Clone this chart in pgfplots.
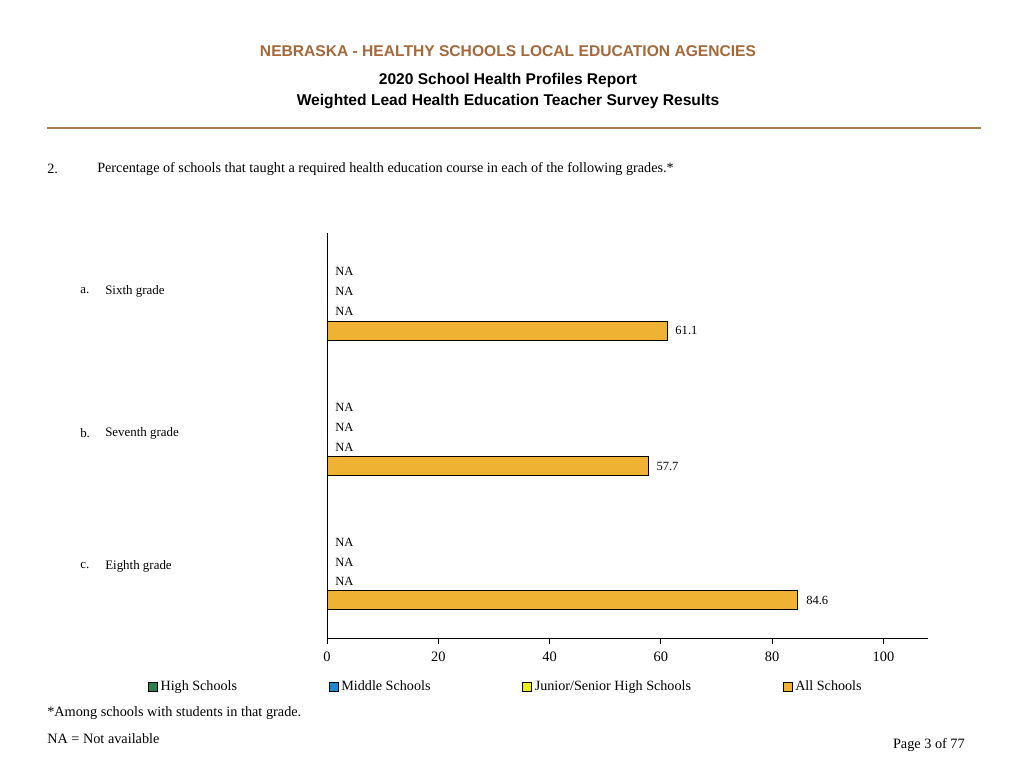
\documentclass[border=0pt]{standalone}
\usepackage{fontspec}
\setmainfont{Liberation Serif}
\newfontfamily\headfont{Liberation Sans}
\usepackage{pgfplots}
\pgfplotsset{compat=1.18}
\definecolor{headbrown}{HTML}{A5683A}
\definecolor{rulebrown}{HTML}{A87A50}
\definecolor{hsgreen}{HTML}{2E7D4F}
\definecolor{msblue}{HTML}{1E88D0}
\definecolor{jsyellow}{HTML}{EEEE10}
\definecolor{allorange}{HTML}{F0B232}
\begin{document}
\begin{tikzpicture}
\useasboundingbox (0,0) rectangle (768pt,576pt);
% header
\node[font=\headfont\bfseries\fontsize{11.7}{13}\selectfont, text=headbrown, inner sep=0] at (381pt,537.75pt) {NEBRASKA - HEALTHY SCHOOLS LOCAL EDUCATION AGENCIES};
\node[font=\headfont\bfseries\fontsize{11.65}{13}\selectfont, inner sep=0] at (381pt,515.5pt) {2020 School Health Profiles Report};
\node[font=\headfont\bfseries\fontsize{11.7}{13}\selectfont, inner sep=0] at (381pt,499.5pt) {Weighted Lead Health Education Teacher Survey Results};
\draw[rulebrown, line width=1.6pt] (35.25pt,480pt) -- (735.75pt,480pt);
% question
\node[font=\fontsize{10.65}{12}\selectfont, anchor=west, inner sep=0] at (35.25pt,449.25pt) {2.};
\node[font=\fontsize{10.65}{12}\selectfont, anchor=west, inner sep=0] at (72.75pt,449.25pt) {Percentage of schools that taught a required health education course in each of the following grades.*};
% category labels
\node[font=\fontsize{9.7}{11}\selectfont, anchor=west, inner sep=0] at (60pt,357.75pt) {a.};
\node[font=\fontsize{9.7}{11}\selectfont, anchor=west, inner sep=0] at (78.75pt,357.75pt) {Sixth grade};
\node[font=\fontsize{9.7}{11}\selectfont, anchor=west, inner sep=0] at (60pt,251.25pt) {b.};
\node[font=\fontsize{9.7}{11}\selectfont, anchor=west, inner sep=0] at (78.75pt,251.25pt) {Seventh grade};
\node[font=\fontsize{9.7}{11}\selectfont, anchor=west, inner sep=0] at (60pt,151.5pt) {c.};
\node[font=\fontsize{9.7}{11}\selectfont, anchor=west, inner sep=0] at (78.75pt,151.5pt) {Eighth grade};
% footnotes
\node[font=\fontsize{10.7}{12}\selectfont, anchor=west, inner sep=0] at (35.25pt,41.25pt) {*Among schools with students in that grade.};
\node[font=\fontsize{10.7}{12}\selectfont, anchor=west, inner sep=0] at (35.25pt,21.75pt) {NA = Not available};
\node[font=\fontsize{10.7}{12}\selectfont, anchor=east, inner sep=0] at (723.75pt,17.25pt) {Page 3 of 77};
\begin{axis}[
  at={(245.25pt,97.5pt)}, anchor=south west,
  scale only axis, width=450.75pt, height=303.75pt,
  xmin=0, xmax=108, ymin=0, ymax=405, y dir=reverse,
  axis lines=left, axis line style={-, line width=0.75pt},
  xtick={0,20,40,60,80,100}, ytick=\empty,
  tick align=outside, major tick length=4.5pt,
  xtick style={black, line width=0.75pt},
  tick label style={font=\fontsize{10.8}{12}\selectfont},
  xticklabel style={yshift=-2.2pt},
  /pgf/number format/assume math mode=true,
  xbar, bar width=14.25pt,
  point meta=explicit symbolic,
  nodes near coords,
  nodes near coords style={font=\fontsize{9.4}{11}\selectfont, anchor=west, inner sep=0pt, xshift=6pt, text=black},
  legend style={draw=none, at={(-0.2978,-0.1205)}, anchor=west, inner sep=0pt,
    font=\fontsize{10.6}{12}\selectfont, column sep=0pt,
    /tikz/every even column/.append style={column sep=67pt}},
  legend columns=4,
  legend image code/.code={\draw[#1, line width=0.6pt] (0pt,-3.3pt) rectangle (6.6pt,3.3pt);},
  clip=false,
]
\addplot[bar shift=0pt, draw=black, fill=hsgreen, line width=0.6pt] coordinates {(0,38) [NA] (0,174) [NA] (0,309) [NA]};
\addplot[bar shift=0pt, draw=black, fill=msblue, line width=0.6pt] coordinates {(0,58) [NA] (0,194) [NA] (0,329) [NA]};
\addplot[bar shift=0pt, draw=black, fill=jsyellow, line width=0.6pt] coordinates {(0,78) [NA] (0,214) [NA] (0,348) [NA]};
\addplot[bar shift=0pt, draw=black, fill=allorange, line width=0.7pt] coordinates {(61.1,97.5) [61.1] (57.7,233) [57.7] (84.6,367) [84.6]};
\legend{High Schools, Middle Schools, Junior/Senior High Schools, All Schools}
\end{axis}
\end{tikzpicture}
\end{document}
